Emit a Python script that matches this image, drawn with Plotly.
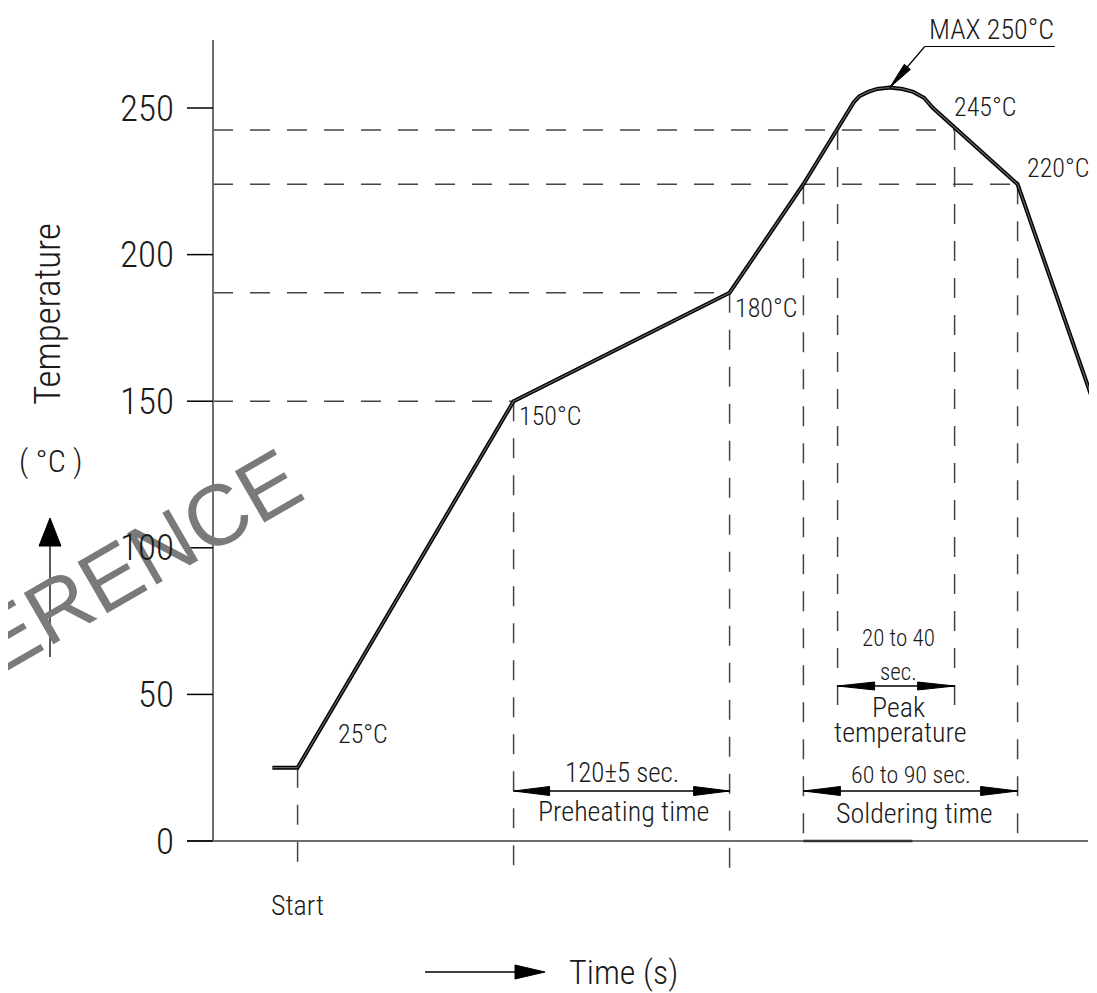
import plotly.graph_objects as go

# reflow profile (time in s, temperature in °C)
TIME = [33, 47, 167, 287, 328, 356, 359, 364, 369, 376, 383, 389, 395, 400, 447, 489]
TEMP = [25, 25, 150, 187, 224, 252, 254, 255.5, 256.5, 257, 256.5, 255.5, 253.5, 250, 224, 150]

Y_TICKS = [0, 50, 100, 150, 200, 250]

# phase boundaries (s)
T_START = 47
T_PRE_START = 167
T_PRE_END = 287
T_SOLDER_START = 328
T_PEAK_START = 347
T_PEAK_END = 412
T_SOLDER_END = 447

# reference levels as drawn (°C)
LEVEL_25 = 25
LEVEL_150 = 150
LEVEL_180 = 187
LEVEL_220 = 224
LEVEL_245 = 242.5
PEAK_T, PEAK_V = 376, 257

# page body has an 8px margin, so the figure is a bit smaller than the window
W, H = 1089, 985
X_RANGE = [-113.89, 491.11]
Y_RANGE = [-51.84, 284.11]
KX = W / (X_RANGE[1] - X_RANGE[0])   # px per second
KY = H / (Y_RANGE[1] - Y_RANGE[0])   # px per °C

FONT = "Roboto Condensed, DejaVu Sans Condensed, sans-serif"
INK = "#1a1a1a"
DASH = "20px,17px"


def dx(p):
    return p / KX


def dy(p):
    return p / KY


fig = go.Figure()


def line(x0, y0, x1, y1, color="black", width=1.5, dash=None, layer="above"):
    fig.add_shape(type="line", x0=x0, y0=y0, x1=x1, y1=y1, layer=layer,
                  line=dict(color=color, width=width, dash=dash))


def arrowhead(x, y, ux, uy, length, half):
    # tip at (x, y), (ux, uy) screen direction with y up
    n = (ux * ux + uy * uy) ** 0.5
    ux, uy = ux / n, uy / n
    bx, by = -ux * length, -uy * length
    nx, ny = -uy * half, ux * half
    x1, y1 = x + dx(bx + nx), y + dy(by + ny)
    x2, y2 = x + dx(bx - nx), y + dy(by - ny)
    fig.add_shape(type="path", path=f"M {x},{y} L {x1},{y1} L {x2},{y2} Z",
                  fillcolor="black", line=dict(color="black", width=1))


def dim_arrow(x0, x1, y, length=36, half=4.5):
    line(x0, y, x1, y, width=1.3)
    arrowhead(x0, y, -1, 0, length, half)
    arrowhead(x1, y, 1, 0, length, half)


def text(x, y, s, size, xanchor="center", xshift=0, yshift=0, angle=0):
    fig.add_annotation(x=x, y=y, text=s, showarrow=False, xanchor=xanchor,
                       yanchor="middle", xshift=xshift, yshift=yshift, textangle=angle,
                       font=dict(family=FONT, size=size, color=INK, weight=300))


# watermark
fig.add_annotation(x=-dx(150), y=dy(841 - 604), text="REFERENCE", showarrow=False,
                   xanchor="center", yanchor="middle", textangle=-30,
                   font=dict(family="Liberation Sans, Arial, sans-serif", size=86, color="#7a7a7a"))

# dashed reference lines
for level, t_end in [(LEVEL_150, T_PRE_START), (LEVEL_180, T_PRE_END),
                     (LEVEL_245, T_PEAK_END), (LEVEL_220, T_SOLDER_END)]:
    line(0, level, t_end, level, color="#444444", width=1.5, dash=DASH, layer="below")

below_axis = -dy(29)
peak_dim_y = dy(841 - 686)
for t, top, bottom in [(T_START, LEVEL_25, below_axis), (T_PRE_START, LEVEL_150, below_axis),
                       (T_PRE_END, LEVEL_180, below_axis), (T_SOLDER_START, LEVEL_220, 0),
                       (T_SOLDER_END, LEVEL_220, 0), (T_PEAK_START, LEVEL_245, peak_dim_y - dy(21)),
                       (T_PEAK_END, LEVEL_245, peak_dim_y - dy(21))]:
    line(t, top, t, bottom, color="#444444", width=1.5, dash=DASH, layer="below")

# axes
line(0, 0, 0, dy(841 - 40), color="#6e6e6e", width=2)
line(-dx(26), 0, dx(1088 - 213), 0, color="#6e6e6e", width=2)
line(T_SOLDER_START, 0, T_SOLDER_START + dx(109), 0, color="#333333", width=2.5)
for v in Y_TICKS:
    line(-dx(26), v, 0, v, color="black", width=1.5)
    text(-dx(37), v, str(v), 37, xanchor="right")

# profile curve
fig.add_trace(go.Scatter(x=TIME, y=TEMP, mode="lines",
                         line=dict(color="black", width=4), hoverinfo="skip"))
fig.add_trace(go.Scatter(x=TIME, y=TEMP, mode="lines",
                         line=dict(color="#666666", width=1.2), hoverinfo="skip"))

# point labels
text(T_START, LEVEL_25, "25°C", 26, xshift=65, yshift=34)
text(T_PRE_START, LEVEL_150, "150°C", 26, xshift=36, yshift=-15)
text(T_PRE_END, LEVEL_180, "180°C", 26, xshift=36, yshift=-15)
text(T_PEAK_END, LEVEL_245, "245°C", 26, xshift=30, yshift=23)
text(T_SOLDER_END, LEVEL_220, "220°C", 26, xshift=40, yshift=16)

# MAX leader
elbow_t, elbow_v = PEAK_T + dx(35), PEAK_V + dy(41)
line(PEAK_T, PEAK_V, elbow_t, elbow_v, width=1.2)
line(elbow_t, elbow_v, elbow_t + dx(130), elbow_v, width=1.2)
arrowhead(PEAK_T, PEAK_V, -35, -41, 27, 4)
text(elbow_t + dx(67), elbow_v, "MAX 250°C", 28, yshift=17)

# dimension arrows
dim_y = dy(841 - 791)
dim_arrow(T_PRE_START, T_PRE_END, dim_y)
text((T_PRE_START + T_PRE_END) / 2, dim_y, "120±5 sec.", 27, yshift=18)
text((T_PRE_START + T_PRE_END) / 2, dim_y, "Preheating time", 28, xshift=2, yshift=-20)

dim_arrow(T_SOLDER_START, T_SOLDER_END, dim_y, length=37)
text((T_SOLDER_START + T_SOLDER_END) / 2, dim_y, "60 to 90 sec.", 24, yshift=16)
text((T_SOLDER_START + T_SOLDER_END) / 2, dim_y, "Soldering time", 28, xshift=4, yshift=-22)

dim_arrow(T_PEAK_START, T_PEAK_END, peak_dim_y, length=37, half=4)
mid_peak = (T_PEAK_START + T_PEAK_END) / 2
text(mid_peak, peak_dim_y, "20 to 40", 23, xshift=2, yshift=48)
text(mid_peak, peak_dim_y, "sec.", 23, xshift=2, yshift=14)
text(mid_peak, peak_dim_y, "Peak", 28, xshift=2, yshift=-21)
text(mid_peak, peak_dim_y, "temperature", 28, xshift=4, yshift=-46)

# axis titles
text(T_START, 0, "Start", 28, yshift=-64)
text(-dx(166), dy(841 - 314), "Temperature", 37, angle=-90)
text(-dx(163), dy(841 - 461), "( °C )", 32)
up_t = -dx(163)
line(up_t, dy(841 - 657), up_t, dy(841 - 540), width=1.3)
arrowhead(up_t, dy(841 - 518), 0, 1, 28, 11)

time_v = -dy(972 - 841)
line(dx(425 - 213), time_v, dx(520 - 213), time_v, width=1.3)
arrowhead(dx(545 - 213), time_v, 1, 0, 30, 7)
text(dx(623 - 213), time_v, "Time (s)", 34)

fig.update_layout(
    width=W, height=H,
    margin=dict(l=0, r=0, t=0, b=0),
    paper_bgcolor="white", plot_bgcolor="white",
    showlegend=False,
    xaxis=dict(range=X_RANGE, visible=False, fixedrange=True),
    yaxis=dict(range=Y_RANGE, visible=False, fixedrange=True),
)

fig.write_html("out.html")
